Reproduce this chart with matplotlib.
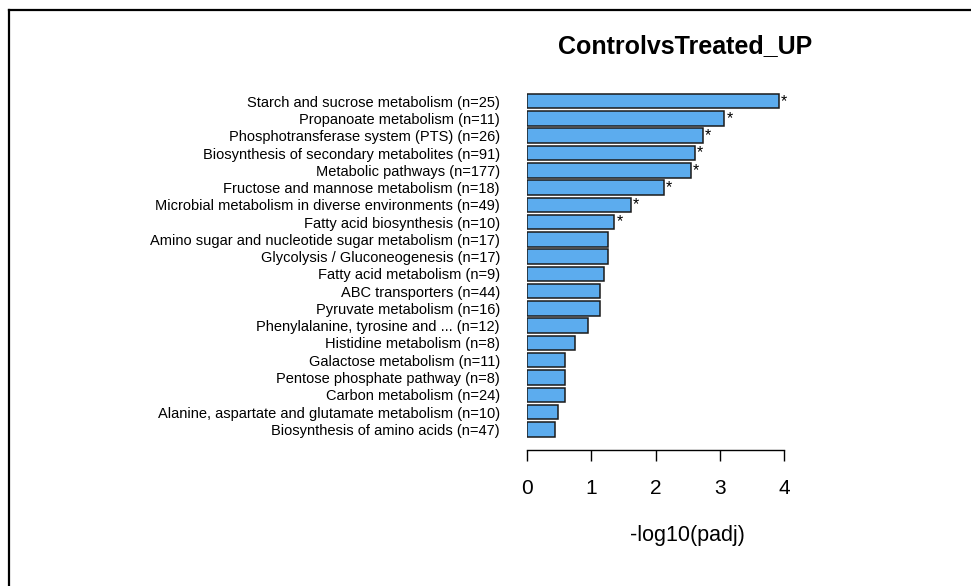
import numpy as np
import matplotlib
matplotlib.use("Agg")
from matplotlib import pyplot as plt
from matplotlib.lines import Line2D

plt.rcParams['font.family'] = ['Liberation Sans', 'DejaVu Sans']

# KEGG pathways, top to bottom
pathways = [
    "Starch and sucrose metabolism (n=25)",
    "Propanoate metabolism (n=11)",
    "Phosphotransferase system (PTS) (n=26)",
    "Biosynthesis of secondary metabolites (n=91)",
    "Metabolic pathways (n=177)",
    "Fructose and mannose metabolism (n=18)",
    "Microbial metabolism in diverse environments (n=49)",
    "Fatty acid biosynthesis (n=10)",
    "Amino sugar and nucleotide sugar metabolism (n=17)",
    "Glycolysis / Gluconeogenesis (n=17)",
    "Fatty acid metabolism (n=9)",
    "ABC transporters (n=44)",
    "Pyruvate metabolism (n=16)",
    "Phenylalanine, tyrosine and ... (n=12)",
    "Histidine metabolism (n=8)",
    "Galactose metabolism (n=11)",
    "Pentose phosphate pathway (n=8)",
    "Carbon metabolism (n=24)",
    "Alanine, aspartate and glutamate metabolism (n=10)",
    "Biosynthesis of amino acids (n=47)",
]
neglog_padj = [3.92, 3.07, 2.73, 2.61, 2.55, 2.13, 1.61, 1.36, 1.26, 1.26,
               1.20, 1.14, 1.14, 0.95, 0.75, 0.59, 0.59, 0.59, 0.48, 0.435]
significant = [True] * 8 + [False] * 12
xticks = [0, 1, 2, 3, 4]

W, H = 971, 586
fig = plt.figure(figsize=(W / 100, H / 100), dpi=100)
ax = fig.add_axes([527 / W, 0.2497, 315.2 / W, 0.5953])

y = np.arange(len(pathways))
ax.barh(y, neglog_padj, height=0.84, color="#5CACEE",
        edgecolor="#1a1a1a", linewidth=1.1)

for yi, v, sig in zip(y, neglog_padj, significant):
    if sig:
        ax.annotate("*", (v, yi), xytext=(1.5, 0), textcoords="offset points",
                    ha="left", va="center", fontsize=11.5)

ax.set_xlim(0, 4.9)
ax.set_ylim(len(pathways) - 0.4, -0.6)
ax.set_yticks(y)
ax.set_yticklabels(pathways)
ax.tick_params(axis="y", length=0, pad=19.5, labelsize=10.5)

ax.set_xticks(xticks)
ax.set_xticklabels([str(t) for t in xticks])
ax.tick_params(axis="x", direction="out", length=8, width=1, pad=13,
               labelsize=15)

for s in ("top", "right", "left"):
    ax.spines[s].set_visible(False)
ax.spines["bottom"].set_position(("outward", 7.4))
ax.spines["bottom"].set_bounds(0, 4)
ax.spines["bottom"].set_linewidth(1)

fig.text(685 / W, 1 - 46 / H, "ControlvsTreated_UP", fontsize=18,
         fontweight="bold", ha="center", va="center")
fig.text(687 / W, 1 - 535 / H, "-log10(padj)", fontsize=15.5,
         ha="center", va="center")

# page border
fig.add_artist(Line2D([9 / W, 1], [1 - 10 / H] * 2, color="black",
                      linewidth=1.6, transform=fig.transFigure))
fig.add_artist(Line2D([9 / W] * 2, [0, 1 - 10 / H], color="black",
                      linewidth=1.6, transform=fig.transFigure))

fig.savefig("out.png", dpi=100)
